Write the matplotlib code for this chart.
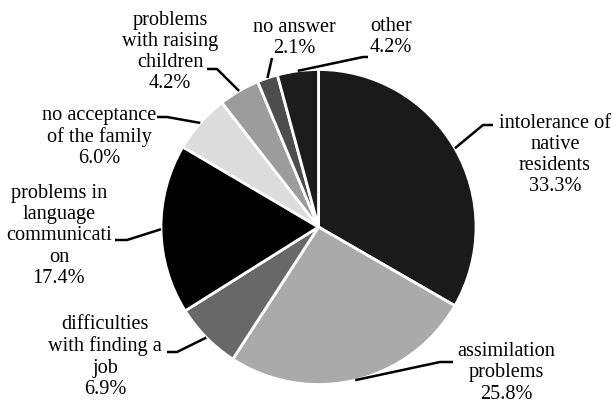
import matplotlib
matplotlib.use("Agg")
import matplotlib.pyplot as plt
from matplotlib import font_manager
import numpy as np

# ---- data ----
labels = [
    "intolerance of\nnative\nresidents",
    "assimilation\nproblems",
    "difficulties\nwith finding a\njob",
    "problems in\nlanguage\ncommunicati\non",
    "no acceptance\nof the family",
    "problems\nwith raising\nchildren",
    "no answer",
    "other",
]
values = [33.3, 25.8, 6.9, 17.4, 6.0, 4.2, 2.1, 4.2]
colors = ["#1a1a1a", "#aaaaaa", "#686868", "#000000", "#dcdcdc", "#9c9c9c", "#4d4d4d", "#1c1c1c"]

# label layout (image pixel coords, y downward)
text_pos = [(555, 155), (506, 373), (105, 357), (59, 236), (99, 137), (170, 52), (294, 38), (391, 37)]
elbows = [(483, 125), (440, 362), (177, 352), (127, 240), (167, 117), (217, 69), (272, 58), (363, 57)]
ends = [(493, 125), (453, 362), (167, 352), (115, 240), (157, 117), (207, 69), (272, 58), (368, 57)]

serif_names = sorted({f.name for f in font_manager.fontManager.ttflist if "Serif" in f.name or "Times" in f.name})
print(serif_names)
plt.rcParams["font.family"] = "serif"
plt.rcParams["font.serif"] = ["Liberation Serif", "Times New Roman", "DejaVu Serif"]

W, H = 613, 404
fig = plt.figure(figsize=(W / 100, H / 100), dpi=100)
ax = fig.add_axes([0, 0, 1, 1])

cx, cy_img, R = 318.5, 227, 157.5
cy = H - cy_img

wedges, _ = ax.pie(values, colors=colors, startangle=90, counterclock=False,
                   center=(cx, cy), radius=R,
                   wedgeprops=dict(edgecolor="white", linewidth=2.0))
ax.set_xlim(0, W)
ax.set_ylim(0, H)
ax.set_aspect("equal")
ax.axis("off")

total = sum(values)
cum = 0.0
for lab, v, tp, el, en in zip(labels, values, text_pos, elbows, ends):
    mid = cum + v / 2
    cum += v
    ang = np.deg2rad(90 - 360 * mid / total)
    px, py = cx + R * np.cos(ang), cy + R * np.sin(ang)
    ax.plot([px, el[0], en[0]], [py, H - el[1], H - en[1]], color="black",
            lw=1.8, solid_capstyle="butt", zorder=3)
    ax.text(tp[0], H - tp[1], f"{lab}\n{v:.1f}%", ha="center", va="center",
            multialignment="center", linespacing=1.15, color="black", size=14.6)

fig.savefig("out.png", dpi=100)
